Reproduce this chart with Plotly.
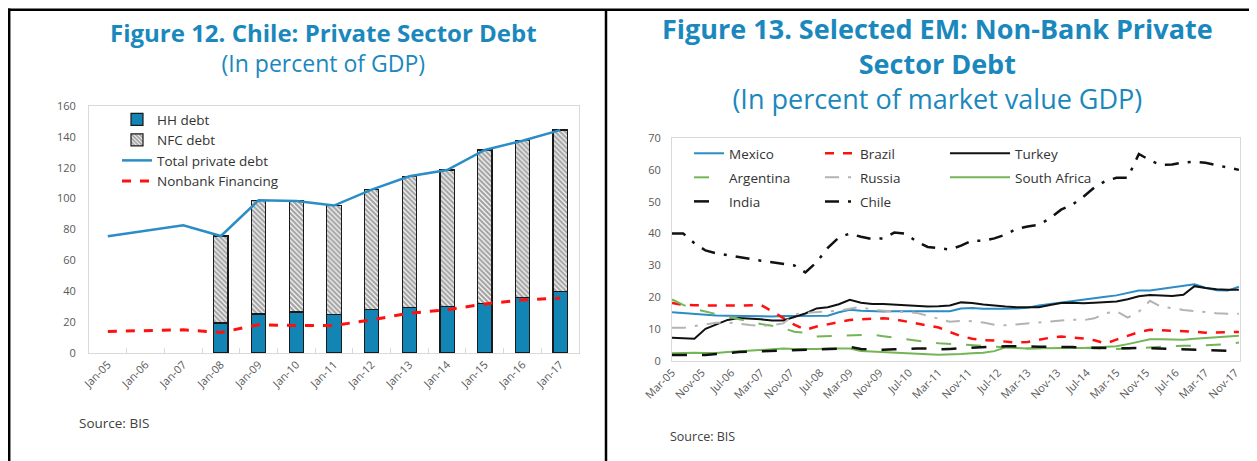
import plotly.graph_objects as go
import pandas as pd

# The page body keeps an 8 px margin, so the figure is drawn 8 px smaller and
# every reference position is shifted by that margin.
PAGE_W, PAGE_H, BODY = 1257, 461, 8
W, H = PAGE_W - BODY, PAGE_H - BODY


def px(x):
    return (x - BODY) / W


def py(y):
    return 1 - (y - BODY) / H


# ---------------- Figure 12 data ----------------
years = ["Jan-05", "Jan-06", "Jan-07", "Jan-08", "Jan-09", "Jan-10", "Jan-11",
         "Jan-12", "Jan-13", "Jan-14", "Jan-15", "Jan-16", "Jan-17"]
hh_debt = [None, None, None, 19.5, 25.3, 26.5, 25.2, 28.4, 29.7, 30.1, 32.3, 35.9, 39.8]
nfc_debt = [None, None, None, 56.3, 73.7, 72.0, 70.3, 77.4, 84.8, 88.4, 99.2, 101.6, 104.6]
total_private_debt = [75.7, 79.3, 82.8, 75.8, 99.0, 98.5, 95.5, 105.8, 114.5, 118.5, 131.5, 137.5, 144.4]
nonbank_financing = [14.0, 14.5, 15.0, 13.3, 18.3, 17.8, 17.8, 21.5, 25.8, 28.0, 31.8, 34.4, 35.5]
fig12_yticks = [0, 20, 40, 60, 80, 100, 120, 140, 160]

# ---------------- Figure 13 data (quarterly, Mar-05 .. Dec-17) ----------------
quarters = pd.date_range("2005-03-01", periods=52, freq="3MS")
mexico = [15.3, 15.0, 14.7, 14.4, 14.3, 14.2, 14.1, 14.1, 14.1, 14.0, 14.1, 14.1, 14.2,
          14.3, 14.2, 15.3, 16.1, 15.8, 15.6, 15.5, 15.6, 15.6, 15.6, 15.5, 15.6, 15.6,
          16.5, 16.6, 16.4, 16.3, 16.4, 16.5, 16.7, 17.4, 17.9, 18.3, 18.8, 19.2, 19.7,
          20.2, 20.6, 21.3, 22.1, 22.1, 22.6, 23.3, 23.8, 24.1, 23.0, 22.2, 22.1, 23.3]
brazil = [18.2, 17.6, 17.5, 17.4, 17.4, 17.4, 17.4, 17.6, 17.6, 15.6, 13.6, 11.4, 9.8,
          10.8, 11.5, 12.2, 12.9, 13.1, 13.3, 13.4, 13.1, 12.5, 11.8, 11.3, 10.5, 9.1,
          7.8, 7.0, 6.5, 6.4, 6.2, 5.8, 6.0, 6.7, 7.3, 7.7, 7.5, 7.1, 6.5, 5.5, 6.7, 8.0,
          9.1, 9.8, 9.7, 9.5, 9.4, 9.2, 8.9, 8.9, 9.0, 9.1]
turkey = [7.3, 7.1, 7.0, 10.1, 11.5, 12.9, 13.5, 13.4, 13.1, 12.7, 12.7, 13.8, 14.9,
          16.5, 16.9, 17.8, 19.2, 18.3, 17.9, 17.9, 17.7, 17.5, 17.2, 17.1, 17.2, 17.4,
          18.4, 18.2, 17.7, 17.3, 17.1, 16.9, 16.9, 16.9, 17.6, 18.2, 18.3, 18.1, 18.3,
          18.5, 18.7, 19.4, 20.3, 20.7, 20.6, 20.4, 20.8, 23.5, 22.9, 22.5, 22.4, 22.4]
argentina = [19.3, 17.6, 16.3, 15.5, 14.6, 13.9, 13.1, 12.3, 11.6, 11.1, 10.3, 9.2, 8.9,
             7.7, 7.8, 8.1, 8.2, 8.3, 8.3, 7.8, 7.3, 6.8, 6.2, 5.9, 5.6, 5.4, 5.2, 5.0,
             4.8, 4.6, 4.3, 4.0, 3.9, 4.0, 4.1, 4.1, 4.1, 4.1, 4.0, 3.8, 3.8, 3.9, 4.1,
             4.4, 4.6, 4.7, 4.8, 4.8, 4.9, 5.0, 5.3, 5.8]
russia = [10.4, 10.4, 11.0, 11.6, 12.0, 12.1, 11.6, 11.3, 11.0, 11.2, 11.8, 14.6, 15.1,
          15.3, 15.5, 15.8, 16.4, 17.0, 16.0, 15.8, 15.6, 15.5, 15.1, 14.2, 13.2, 12.3,
          12.6, 12.5, 12.1, 11.4, 11.2, 11.5, 11.8, 12.2, 12.6, 12.8, 13.0, 12.8, 13.4,
          15.0, 15.6, 13.6, 15.5, 18.9, 17.0, 16.6, 16.0, 15.7, 15.3, 15.0, 14.8, 14.8]
south_africa = [2.4, 2.6, 2.6, 2.5, 2.5, 2.8, 3.0, 3.3, 3.6, 3.8, 3.9, 3.8, 3.7, 3.8, 3.9,
                3.9, 3.9, 3.1, 2.9, 2.7, 2.6, 2.4, 2.2, 2.1, 2.0, 2.0, 2.2, 2.4, 2.6, 3.1,
                4.3, 4.1, 3.9, 4.0, 4.1, 4.1, 4.1, 4.1, 4.2, 4.4, 4.6, 5.3, 6.0, 6.8, 6.8,
                6.8, 6.7, 7.0, 7.3, 7.6, 7.7, 7.9]
india = [1.9, 1.9, 1.9, 1.9, 2.2, 2.6, 2.8, 2.9, 3.0, 3.2, 3.3, 3.5, 3.6, 3.7, 3.8, 3.9,
         4.4, 3.8, 3.6, 3.5, 3.7, 3.9, 3.9, 3.9, 3.7, 3.8, 4.0, 4.3, 4.4, 4.5, 4.6, 4.7,
         4.6, 4.5, 4.5, 4.5, 4.4, 4.2, 4.1, 4.0, 3.9, 4.0, 4.1, 4.0, 3.9, 3.8, 3.7, 3.6,
         3.4, 3.3, 3.2, 3.1]
chile = [40.0, 40.0, 37.0, 34.7, 33.8, 33.2, 32.5, 32.0, 31.5, 31.0, 30.5, 30.0, 27.8,
         31.0, 35.5, 38.8, 40.0, 39.0, 38.3, 38.5, 40.3, 40.0, 37.5, 35.8, 35.4, 35.0,
         36.2, 37.8, 37.7, 38.5, 39.7, 41.5, 42.2, 42.8, 44.8, 47.5, 49.0, 51.5, 54.5,
         56.5, 57.5, 57.5, 65.0, 63.0, 61.5, 61.7, 62.3, 62.5, 62.2, 61.5, 60.8, 60.0]
fig13_ticklabels = ["Mar-05", "Nov-05", "Jul-06", "Mar-07", "Nov-07", "Jul-08", "Mar-09",
                    "Nov-09", "Jul-10", "Mar-11", "Nov-11", "Jul-12", "Mar-13", "Nov-13",
                    "Jul-14", "Mar-15", "Nov-15", "Jul-16", "Mar-17", "Nov-17"]
fig13_yticks = [0, 10, 20, 30, 40, 50, 60, 70]

FONT = "Open Sans"
TITLE_BLUE = "#1a88bd"
TICK_GRAY = "#595959"
FRAME = "#d9d9d9"

fig = go.Figure()

# ---- Figure 12 traces
fig.add_trace(go.Bar(
    x=years, y=hh_debt, name="HH debt", xaxis="x", yaxis="y", legend="legend",
    marker=dict(color="#1285b5", line=dict(color="#1a1a1a", width=1.2)),
))
fig.add_trace(go.Bar(
    x=years, y=nfc_debt, name="NFC debt", xaxis="x", yaxis="y", legend="legend",
    marker=dict(color="white", line=dict(color="#1a1a1a", width=1.2),
                pattern=dict(shape="\\", fgcolor="#505050", bgcolor="#f4f4f4",
                             size=3.5, solidity=0.6)),
))
fig.add_trace(go.Scatter(
    x=years, y=total_private_debt, name="Total private debt", mode="lines",
    xaxis="x", yaxis="y", legend="legend",
    line=dict(color="#2a8dc5", width=2.5),
))
fig.add_trace(go.Scatter(
    x=years, y=nonbank_financing, name="Nonbank Financing", mode="lines",
    xaxis="x", yaxis="y", legend="legend",
    line=dict(color="#ff1010", width=3, dash="dash"),
))

# ---- Figure 13 traces (legend columns: legend2 / legend3 / legend4)
green = "#74b556"
series13 = [
    ("Mexico", mexico, dict(color="#2a8dc5", width=2), "legend2"),
    ("Brazil", brazil, dict(color="#ff1010", width=2.5, dash="dash"), "legend3"),
    ("Turkey", turkey, dict(color="#111111", width=2), "legend4"),
    ("Argentina", argentina, dict(color=green, width=2, dash="longdash"), "legend2"),
    ("Russia", russia, dict(color="#b3b3b3", width=2, dash="14px,9px,3px,9px"), "legend3"),
    ("South Africa", south_africa, dict(color=green, width=2), "legend4"),
    ("India", india, dict(color="#111111", width=2.5, dash="longdash"), "legend2"),
    ("Chile", chile, dict(color="#111111", width=2.5, dash="14px,9px,3px,9px"), "legend3"),
]
for name, vals, line, leg in series13:
    fig.add_trace(go.Scatter(
        x=quarters, y=vals, name=name, mode="lines", xaxis="x2", yaxis="y2",
        legend=leg, legendgroup=name, line=line,
    ))

tick_dates = [pd.to_datetime(t, format="%b-%y") for t in fig13_ticklabels]

axis_font = dict(family=FONT, size=11, color=TICK_GRAY)
leg13_font = dict(family=FONT, size=13.5, color="#333333")

fig.update_layout(
    width=W, height=H,
    margin=dict(l=0, r=0, t=0, b=0, autoexpand=False),
    paper_bgcolor="white", plot_bgcolor="white",
    font=dict(family=FONT, color="#333333"),
    showlegend=True,
    barmode="stack", bargap=0.62,
    xaxis=dict(
        domain=[px(89), px(579)], anchor="y", type="category", automargin=False,
        showline=True, linecolor=FRAME, mirror=True, showgrid=False,
        ticks="inside", tickson="boundaries", ticklen=5, tickcolor=FRAME,
        tickangle=-45, tickfont=axis_font,
    ),
    yaxis=dict(
        domain=[py(353), py(106)], anchor="x", range=[0, 160], automargin=False,
        tickvals=fig12_yticks, showline=True, linecolor=FRAME, mirror=True,
        showgrid=False, zeroline=False, ticks="", tickfont=axis_font,
        ticklabelstandoff=10,
    ),
    xaxis2=dict(
        domain=[px(672), px(1240)], anchor="y2", type="date", automargin=False,
        range=["2005-03-01", "2017-12-10"],
        tickvals=tick_dates, ticktext=fig13_ticklabels,
        showline=True, linecolor=FRAME, mirror=True, showgrid=False,
        ticks="", tickangle=-45, tickfont=axis_font,
    ),
    yaxis2=dict(
        domain=[py(361), py(138)], anchor="x2", range=[0, 70], automargin=False,
        tickvals=fig13_yticks, showline=True, linecolor=FRAME, mirror=True,
        showgrid=False, zeroline=False, ticks="", tickfont=axis_font,
        ticklabelstandoff=8,
    ),
    legend=dict(
        x=px(117), y=py(104), xanchor="left", yanchor="top",
        bgcolor="rgba(0,0,0,0)", font=dict(family=FONT, size=13.5, color="#333333"),
        tracegroupgap=0, traceorder="normal",
    ),
    legend2=dict(
        x=px(689), y=py(138), xanchor="left", yanchor="top",
        bgcolor="rgba(0,0,0,0)", font=leg13_font, tracegroupgap=3.5,
        traceorder="grouped",
    ),
    legend3=dict(
        x=px(820), y=py(138), xanchor="left", yanchor="top",
        bgcolor="rgba(0,0,0,0)", font=leg13_font, tracegroupgap=3.5,
        traceorder="grouped",
    ),
    legend4=dict(
        x=px(945), y=py(138), xanchor="left", yanchor="top",
        bgcolor="rgba(0,0,0,0)", font=leg13_font, tracegroupgap=3.5,
        traceorder="grouped", itemwidth=60,
    ),
)

annotations = [
    dict(text="<span style='font-size:24px'><b>Figure 12. Chile: Private Sector Debt</b></span>"
              "<br><span style='font-size:23px'>(In percent of GDP)</span>",
         x=px(323), y=py(47),
         font=dict(family=FONT, size=23.2, color=TITLE_BLUE)),
    dict(text="<b>Figure 13. Selected EM: Non-Bank Private</b><br><b>Sector Debt</b>"
              "<br>(In percent of market value GDP)",
         x=px(938), y=py(64),
         font=dict(family=FONT, size=27, color=TITLE_BLUE)),
    dict(text="Source: BIS", x=px(77), y=py(423), xanchor="left",
         font=dict(family=FONT, size=13.5, color="#404040")),
    dict(text="Source: BIS", x=px(668), y=py(436), xanchor="left",
         font=dict(family=FONT, size=12.5, color="#404040")),
]
for a in annotations:
    a.setdefault("xanchor", "center")
    a.update(xref="paper", yref="paper", yanchor="middle", showarrow=False)
fig.update_layout(annotations=annotations)

border = dict(color="black", width=2.5)
fig.update_layout(shapes=[
    dict(type="line", xref="paper", yref="paper", x0=px(9.2), x1=px(9.2),
         y0=py(8.5), y1=0, line=border),
    dict(type="line", xref="paper", yref="paper", x0=px(8), x1=1,
         y0=py(9.8), y1=py(9.8), line=border),
    dict(type="line", xref="paper", yref="paper", x0=px(606), x1=px(606),
         y0=py(10), y1=0, line=border),
])

fig.write_html("out.html")
